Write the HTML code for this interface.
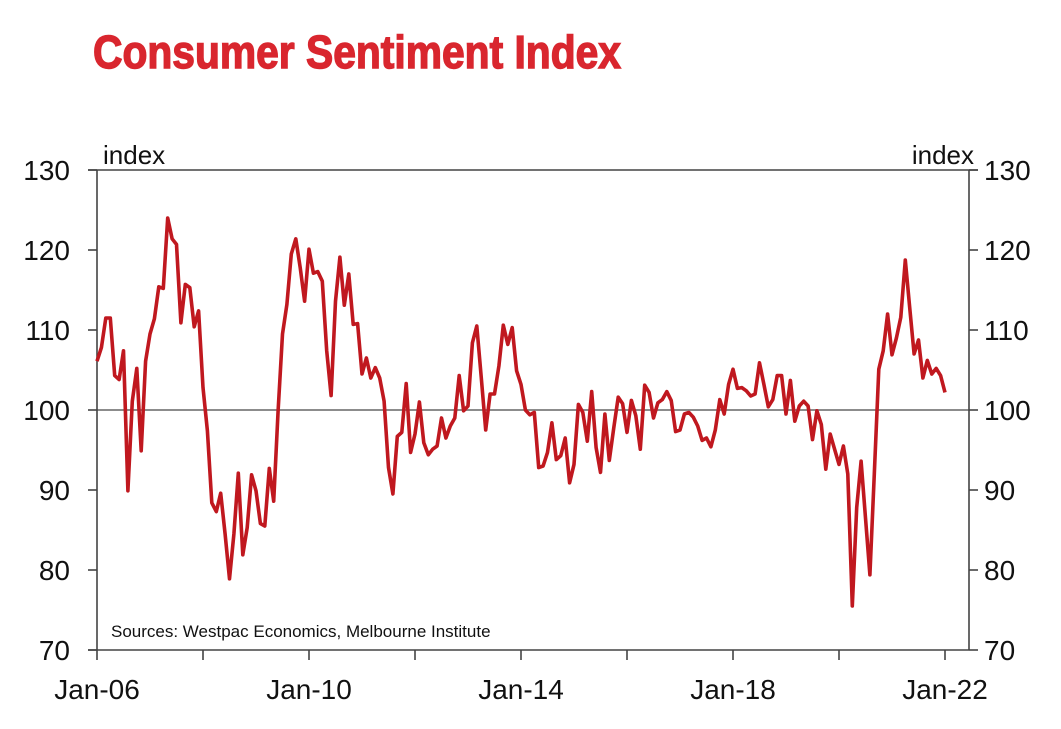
<!DOCTYPE html>
<html><head><meta charset="utf-8"><style>
body{margin:0;background:#fff;width:1061px;height:724px;overflow:hidden}
svg text{font-family:"Liberation Sans",sans-serif;fill:#111}
</style></head><body>
<svg width="1061" height="724" viewBox="0 0 1061 724">
<text x="93" y="68" style="font-family:'Liberation Sans Narrow','Liberation Sans',sans-serif;font-weight:bold;font-size:46px;fill:#d9262e;stroke:#d9262e;stroke-width:1.4" textLength="528" lengthAdjust="spacingAndGlyphs">Consumer Sentiment Index</text>
<g id="axes"></g>
<path id="series" fill="none" stroke="#c0181f" stroke-width="3.6" stroke-linejoin="round"/>
</svg>
<script>
const yTicks=[70,80,90,100,110,120,130];
const xTickLabels=['Jan-06','Jan-10','Jan-14','Jan-18','Jan-22'];
const values=[106.1,107.8,111.5,111.5,104.3,103.8,107.4,89.9,101.1,105.2,94.9,106.1,109.5,111.4,115.4,115.2,124.0,121.4,120.7,110.9,115.7,115.3,110.4,112.4,102.8,97.4,88.4,87.3,89.6,84.5,78.9,84.5,92.1,81.9,85.3,91.9,89.9,85.8,85.5,92.7,88.6,99.9,109.5,113.2,119.5,121.4,117.8,113.6,120.1,117.1,117.3,116.1,
107.4,101.8,113.6,119.1,113.1,117.0,110.7,110.8,104.5,106.5,104.0,105.3,104.0,101.1,92.8,89.5,96.7,97.2,103.3,94.7,97.0,101.0,95.9,94.4,95.1,95.5,99.0,96.5,98.0,99.0,104.3,99.9,100.5,108.4,110.5,104.0,97.5,102.0,102.0,105.5,110.6,108.2,110.3,104.9,103.2,100.0,99.4,99.7,
92.8,93.0,94.7,98.4,93.8,94.3,96.5,90.9,93.2,100.7,99.7,96.1,102.3,95.3,92.2,99.5,93.7,97.8,101.6,100.8,97.2,101.2,99.3,95.1,103.1,102.2,99.0,100.9,101.3,102.3,101.2,97.3,97.5,99.5,99.7,99.1,98.0,96.2,96.5,95.4,97.5,101.3,99.5,103.2,105.1,102.7,102.8,102.4,101.75,102.0,
105.9,103.2,100.4,101.3,104.3,104.3,99.5,103.7,98.6,100.5,101.1,100.5,96.3,99.9,98.2,92.6,97.0,95.1,93.2,95.5,92.0,75.5,87.8,93.6,86.5,79.4,92.0,105.1,107.4,112.0,106.9,109.0,111.6,118.75,112.8,107.0,108.75,104.0,106.2,104.5,105.2,104.3,102.2];
const L=97,R=969,T=170,B=650;
const yS=v=>B-(v-70)*(B-T)/60;
const xS=m=>L+m*53/12;
const NS='http://www.w3.org/2000/svg';
const ax=document.getElementById('axes');
function mk(tag,attrs,txt){const e=document.createElementNS(NS,tag);for(const k in attrs)e.setAttribute(k,attrs[k]);if(txt!==undefined)e.textContent=txt;ax.appendChild(e);return e;}
let g=mk('line',{x1:L,x2:R,y1:yS(100),y2:yS(100),stroke:'#8c8c8c','stroke-width':2});


let f=mk('path',{d:`M${L-9},${T}H${R+9}M${L},${T}V${B}M${R},${T}V${B}M${L-9},${B}H${R}`,stroke:'#444','stroke-width':1.6,fill:'none'});


yTicks.forEach(v=>{
 const y=yS(v);
 mk('line',{x1:L-9,x2:L,y1:y,y2:y,stroke:'#444','stroke-width':1.6});
 mk('line',{x1:R,x2:R+9,y1:y,y2:y,stroke:'#444','stroke-width':1.6});
 let a=mk('text',{x:70,y:y+10,'text-anchor':'end','font-size':28},v);
 
 
 let b=mk('text',{x:984,y:y+10,'text-anchor':'start','font-size':28},v);
 
 
});
for(let yr=0;yr<=16;yr+=2){const x=xS(yr*12);mk('line',{x1:x,x2:x,y1:B,y2:B+10,stroke:'#444','stroke-width':1.6});}
xTickLabels.forEach((t,i)=>{
 let a=mk('text',{x:xS(i*48),y:B+49,'text-anchor':'middle','font-size':28},t);
 
 
});
let u1=mk('text',{x:103,y:164,'font-size':26},'index');


let u2=mk('text',{x:974,y:164,'font-size':26,'text-anchor':'end'},'index');


let s=mk('text',{x:111,y:637,'font-size':17},'Sources: Westpac Economics, Melbourne Institute');


document.getElementById('series').setAttribute('d',values.map((v,i)=>(i?'L':'M')+xS(i).toFixed(1)+','+yS(v).toFixed(1)).join(''));
</script>
</body></html>
